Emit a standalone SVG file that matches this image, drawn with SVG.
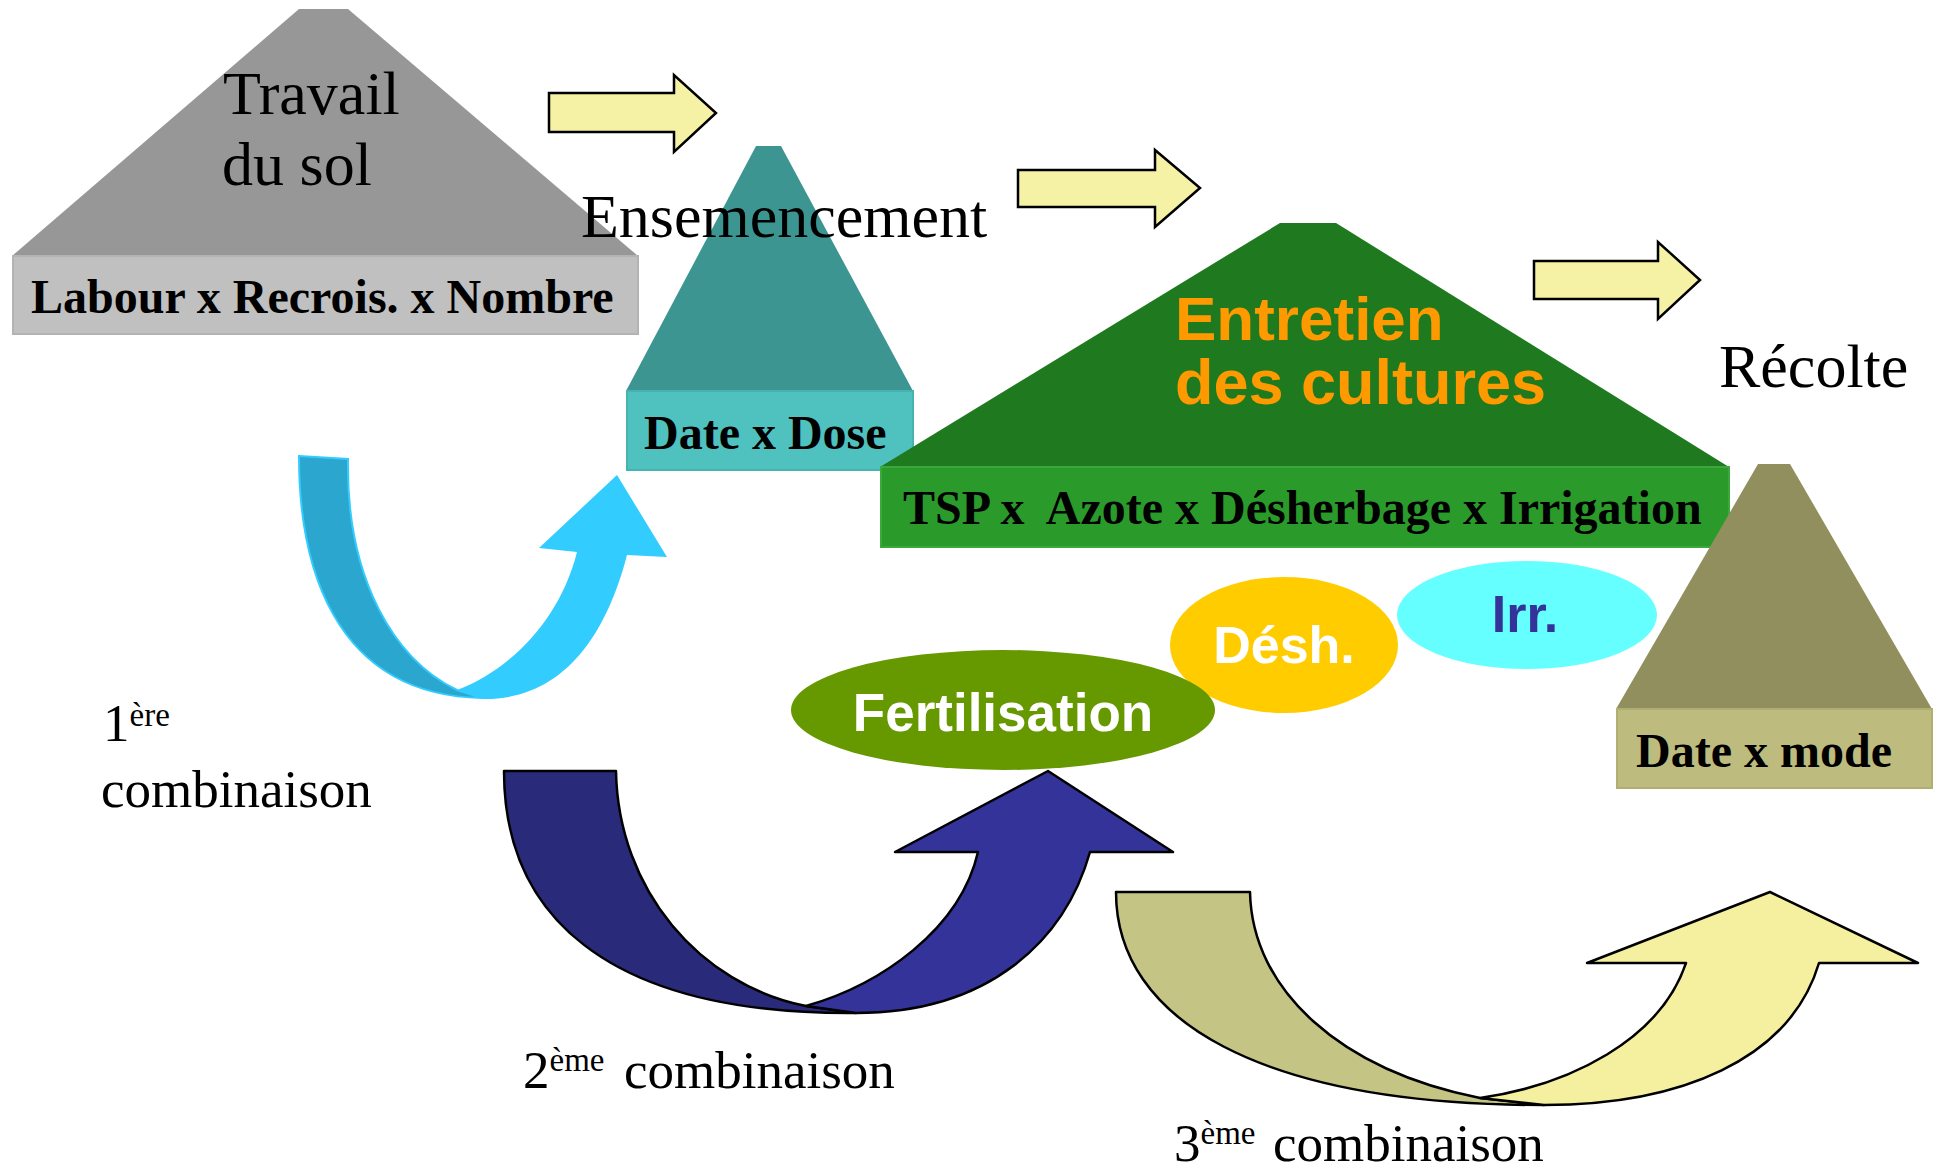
<svg xmlns="http://www.w3.org/2000/svg" width="1939" height="1169" viewBox="0 0 1939 1169">
<style>
.serif{font-family:"Liberation Serif","Times New Roman",serif;fill:#000}
.big{font-size:62px}
.lbl{font-size:48px;font-weight:bold}
.comb{font-size:53px}
.sup{font-size:33px}
.sans{font-family:"Liberation Sans",Arial,sans-serif;font-weight:bold}
.blk{fill:#f5f2a6;stroke:#000;stroke-width:2.5;stroke-linejoin:miter}
.cs{stroke:#000;stroke-width:2.5;stroke-linejoin:round}
</style>
<rect width="1939" height="1169" fill="#fff"/>

<g id="travail-du-sol">
<polygon points="299,9 348,9 638,256 12,256" fill="#979797"/>
<rect x="13" y="256" width="625" height="78" fill="#c0c0c0" stroke="#b3b3b3" stroke-width="2"/>
<text class="serif big" x="223" y="114">Travail</text>
<text class="serif big" x="222" y="185">du sol</text>
<text class="serif lbl" x="31" y="313">Labour x Recrois. x Nombre</text>
</g>

<g id="ensemencement">
<polygon points="756,146 781,146 913,391 626,391" fill="#3d9591"/>
<rect x="627" y="391" width="286" height="79" fill="#4fc1bf" stroke="#46b3b1" stroke-width="2"/>
<text class="serif big" x="581" y="237">Ensemencement</text>
<text class="serif lbl" x="644" y="449">Date x Dose</text>
</g>

<g id="entretien">
<polygon points="1280,223 1336,223 1729,467 880,467" fill="#1f7a1f"/>
<rect x="881" y="467" width="848" height="80" fill="#2a9b2a" stroke="#3aa83a" stroke-width="2"/>
<text class="sans" x="1175" y="340" font-size="62" fill="#ff9900">Entretien</text>
<text class="sans" x="1175" y="404" font-size="63" fill="#ff9900">des cultures</text>
<text class="serif lbl" x="903" y="524" xml:space="preserve">TSP x  Azote x Désherbage x Irrigation</text>
</g>

<g id="recolte">
<polygon points="1758,464 1790,464 1932,709 1616,709" fill="#928f5e"/>
<rect x="1617" y="709" width="315" height="79" fill="#bdbb7d" stroke="#b0ae70" stroke-width="2"/>
<text class="serif big" x="1719" y="387">Récolte</text>
<text class="serif lbl" x="1636" y="767">Date x mode</text>
</g>

<g id="irr">
<ellipse cx="1527" cy="615" rx="130" ry="54" fill="#66ffff"/>
<text class="sans" x="1525" y="632" font-size="52" fill="#333399" text-anchor="middle">Irr.</text>
</g>

<g id="desh">
<ellipse cx="1284" cy="645" rx="114" ry="68" fill="#ffcc00"/>
<text class="sans" x="1284" y="663" font-size="52" fill="#fff" text-anchor="middle">Désh.</text>
</g>

<g id="fertilisation">
<ellipse cx="1003" cy="710" rx="212" ry="60" fill="#669900"/>
<text class="sans" x="1003" y="731" font-size="53" fill="#fff" text-anchor="middle">Fertilisation</text>
</g>

<g id="labels">
<text class="serif comb" x="103" y="741">1<tspan class="sup" dy="-15">ère</tspan></text>
<text class="serif comb" x="101" y="807">combinaison</text>
<text class="serif comb" x="523" y="1088">2<tspan class="sup" dy="-17">ème</tspan><tspan x="624" dy="17">combinaison</tspan></text>
<text class="serif comb" x="1174" y="1161">3<tspan class="sup" dy="-17">ème</tspan><tspan x="1273" dy="17">combinaison</tspan></text>
</g>

<g id="connectors">
<polygon class="blk" points="549,93 674,93 674,75 716,113 674,152 674,132 549,132"/>
<polygon class="blk" points="1018,170 1155,170 1155,150 1200,188 1155,227 1155,207 1018,207"/>
<polygon class="blk" points="1534,261 1658,261 1658,242 1700,280 1658,319 1658,299 1534,299"/>

<g id="combo1">
<path d="M299,456 L348,459 C346,580 395,660 457,690 L482,698 C330,695 299,560 299,456 Z" fill="#2ba6cf" stroke="#33ccff" stroke-width="2"/>
<path d="M457,690 C510,670 560,620 577,552 L539,548 L617,475 L667,557 L627,555 C605,640 560,700 483,699 Z" fill="#33ccff"/>
</g>

<g id="combo2">
<path class="cs" d="M504,771 L616,771 C618,890 700,985 806,1006 L856,1013 C600,1015 504,910 504,771 Z" fill="#2a2a7a"/>
<path class="cs" d="M806,1006 C880,985 960,930 978,852 L895,852 L1048,771 L1173,852 L1090,852 C1065,940 990,1013 856,1013 Z" fill="#333399"/>
</g>

<g id="combo3">
<path class="cs" d="M1116,892 L1250,892 C1252,990 1340,1070 1480,1098 L1544,1105 C1260,1105 1116,1020 1116,892 Z" fill="#c4c484"/>
<path class="cs" d="M1480,1098 C1570,1085 1660,1040 1686,963 L1587,963 L1770,892 L1918,963 L1819,963 C1790,1060 1680,1105 1544,1105 Z" fill="#f5f0a0"/>
</g>
</g>
</svg>
